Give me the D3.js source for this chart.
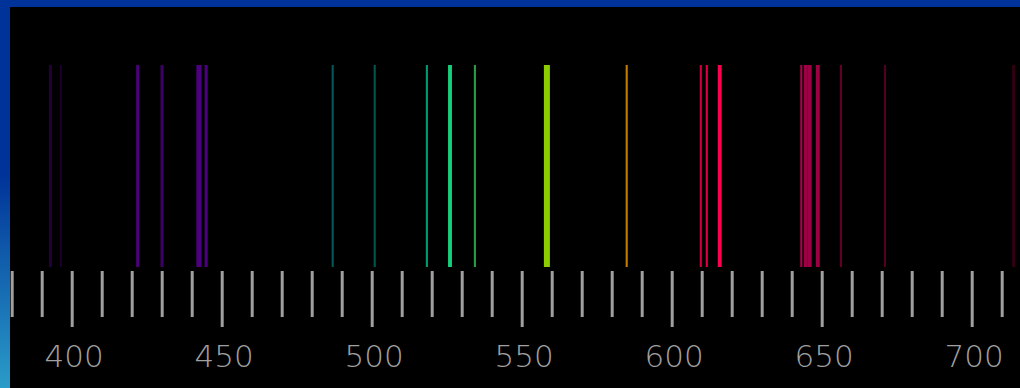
<!DOCTYPE html>
<html>
<head>
<meta charset="utf-8">
<script src="https://cdn.jsdelivr.net/npm/d3@7/dist/d3.min.js"></script>
<style>
  html, body { margin: 0; padding: 0; background: #000; }
  svg { display: block; }
</style>
</head>
<body>
<div id="chart"></div>
<script>
// emission lines, wavelength in nm
const wavelengths = [392.9, 396.4, 422.0, 430.1, 442.4, 444.8, 487.0, 501.0, 518.4, 526.1, 534.4,
    558.4, 585.0, 609.7, 611.7, 616.0, 643.2, 644.7, 646.0, 648.7, 656.4, 671.1, 714.0];
// relative brightness of each line (0..1)
const intensities = [0.3, 0.28, 0.68, 0.56, 0.72, 0.74, 0.5, 0.45, 0.7, 0.92, 0.7,
    0.92, 0.85, 0.82, 0.88, 1.0, 0.68, 0.62, 0.62, 0.62, 0.38, 0.32, 0.2];
// apparent breadth of each line, in nm
const breadths = [1, 0.5, 1, 1, 1.7, 1, 0.7, 0.7, 0.7, 1.3, 0.7,
    2, 0.7, 0.7, 0.7, 1.3, 0.7, 1.3, 1.3, 1.3, 0.7, 0.7, 1];

const minorTicks = d3.range(380, 711, 10);
const majorTicks = [400, 450, 500, 550, 600, 650, 700];

const width = 1020, height = 388;

let svg = d3.select("#chart").append("svg")
    .attr("width", width)
    .attr("height", height);

// frame: blue strip on the top and left
let defs = svg.append("defs");
let grad = defs.append("linearGradient")
    .attr("id", "edge")
    .attr("x1", 0).attr("y1", 0).attr("x2", 0).attr("y2", 1);
grad.append("stop").attr("offset", "0%").attr("stop-color", "#003399");
grad.append("stop").attr("offset", "45%").attr("stop-color", "#003399");
grad.append("stop").attr("offset", "100%").attr("stop-color", "#2a9cc8");

svg.append("rect")
    .attr("width", width).attr("height", height)
    .attr("fill", "#000");
svg.append("rect")
    .attr("width", 10).attr("height", height)
    .attr("fill", "url(#edge)");
svg.append("rect")
    .attr("width", width).attr("height", 7)
    .attr("fill", "#003399");

let x = d3.scaleLinear()
    .domain([400, 700])
    .range([71.7, 971.7]);

// hue at full brightness for a wavelength
let hue = d3.scaleLinear()
    .domain([390, 445, 487, 520, 558, 585, 605, 640, 720])
    .range(["#7a00c0", "#6a00b0", "#00b0b0", "#00e0a0", "#98e000", "#e89000", "#ff0040", "#ff0070", "#ff0060"])
    .clamp(true);

let lines = wavelengths.map((w, i) => ({w: w, a: intensities[i], b: breadths[i]}));

let plot = svg.append("g");
plot.selectAll(".line")
    .data(lines)
    .enter().append("rect")
    .attr("class", "line")
    .attr("x", d => x(d.w - d.b / 2))
    .attr("width", d => x(d.w + d.b / 2) - x(d.w - d.b / 2))
    .attr("y", 65)
    .attr("height", 202)
    .attr("fill", d => d3.interpolateRgb("#000", hue(d.w))(d.a));

// ruler
let minorAxis = d3.axisBottom(x)
    .tickValues(minorTicks.filter(t => !majorTicks.includes(t)))
    .tickSize(46)
    .tickFormat("");
let majorAxis = d3.axisBottom(x)
    .tickValues(majorTicks)
    .tickSize(56)
    .tickPadding(18)
    .tickFormat(d3.format("d"));

let gMinor = svg.append("g")
    .attr("transform", "translate(0,271)")
    .call(minorAxis);
let gMajor = svg.append("g")
    .attr("transform", "translate(0,271)")
    .call(majorAxis);

[gMinor, gMajor].forEach(g => {
    g.select(".domain").remove();
    g.selectAll(".tick line")
        .attr("stroke", "#a0a0a0")
        .attr("stroke-width", 3);
});
gMajor.selectAll(".tick text")
    .attr("fill", "#a0a0a0")
    .attr("dx", 2)
    .style("font-family", "'DejaVu Sans', sans-serif")
    .style("font-weight", 200)
    .style("font-size", "31px");
</script>
</body>
</html>
